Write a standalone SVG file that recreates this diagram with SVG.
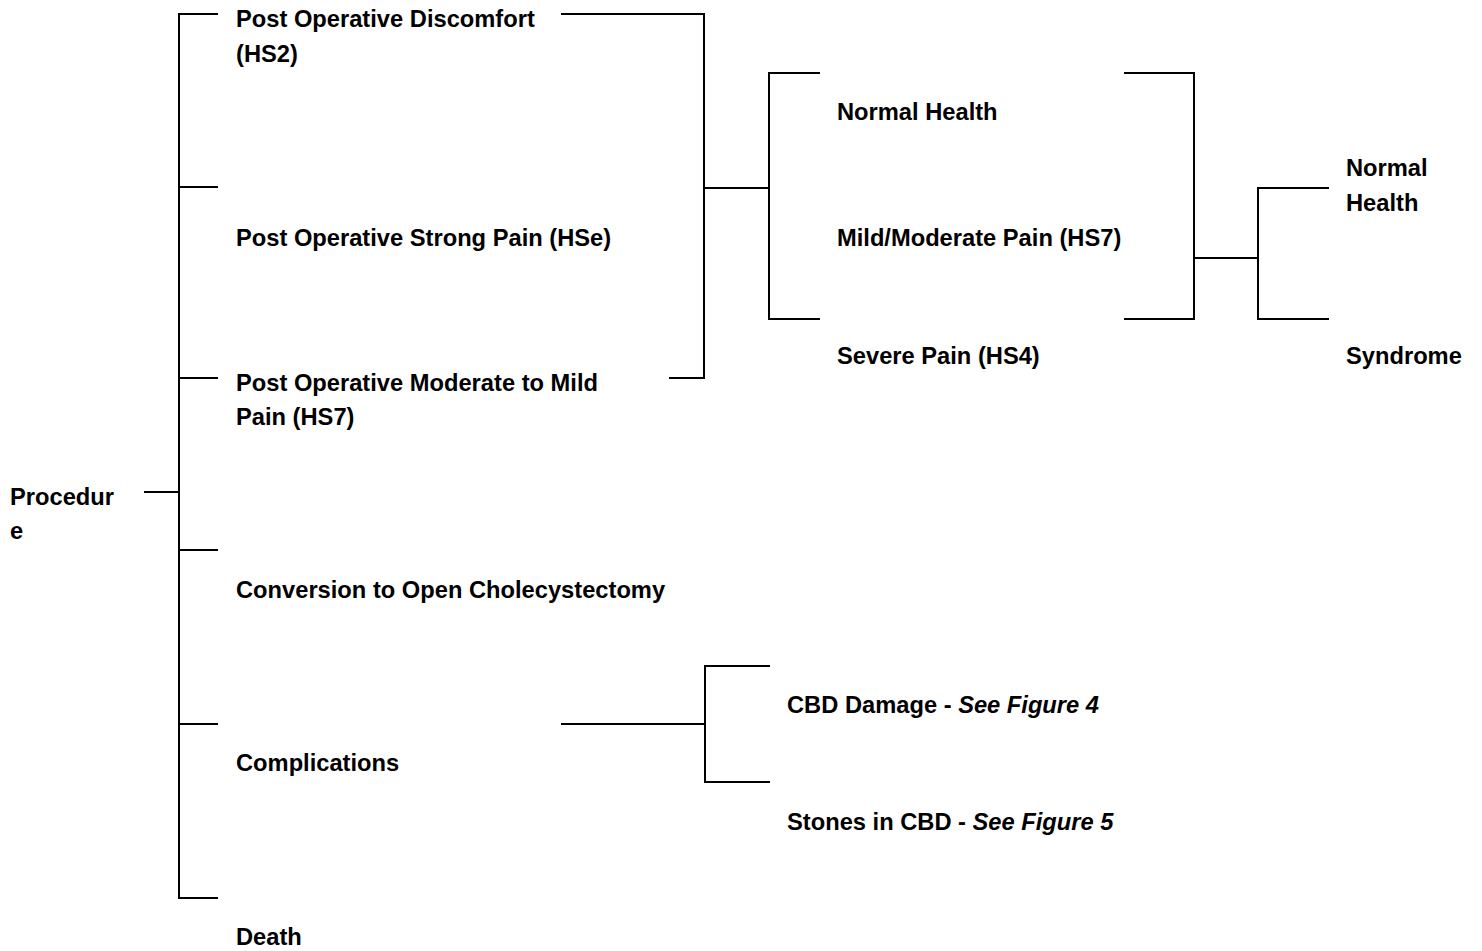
<svg xmlns="http://www.w3.org/2000/svg" width="1482" height="951" viewBox="0 0 1482 951">
<style>
.t{font-family:"Liberation Sans",Arial,sans-serif;font-weight:bold;font-size:23.7px;fill:#000}
.i{font-style:italic}
.c{fill:none;stroke:#000;stroke-width:2;stroke-linecap:square}
</style>
<rect width="1482" height="951" fill="#fff"/>
<g id="connectors" class="c">
<path d="M145 492H179M217 14H179V898H217M179 187H217M179 378H217M179 550H217M179 724H217"/>
<path d="M562 14H704V378H670M704 188H769"/>
<path d="M819 73H769V319H819"/>
<path d="M1125 73H1194V319H1125M1194 258H1258"/>
<path d="M1328 188H1258V319H1328"/>
<path d="M562 724H705M769 666H705V782H769"/>
</g>
<g id="procedure"><text class="t" x="10" y="505">Procedur</text><text class="t" x="10" y="539">e</text></g>
<g id="discomfort"><text class="t" x="236" y="27">Post Operative Discomfort</text><text class="t" x="236" y="62">(HS2)</text></g>
<g id="strong"><text class="t" x="236" y="246">Post Operative Strong Pain (HSe)</text></g>
<g id="moderate"><text class="t" x="236" y="391">Post Operative Moderate to Mild</text><text class="t" x="236" y="425">Pain (HS7)</text></g>
<g id="conversion"><text class="t" x="236" y="598">Conversion to Open Cholecystectomy</text></g>
<g id="complications"><text class="t" x="236" y="771">Complications</text></g>
<g id="death"><text class="t" x="236" y="945">Death</text></g>
<g id="normal1"><text class="t" x="837" y="120">Normal Health</text></g>
<g id="mild"><text class="t" x="837" y="246">Mild/Moderate Pain (HS7)</text></g>
<g id="severe"><text class="t" x="837" y="364">Severe Pain (HS4)</text></g>
<g id="normal2"><text class="t" x="1346" y="176">Normal</text><text class="t" x="1346" y="211">Health</text></g>
<g id="syndrome"><text class="t" x="1346" y="364">Syndrome</text></g>
<g id="cbd"><text class="t" x="787" y="713">CBD Damage - <tspan class="i">See Figure 4</tspan></text></g>
<g id="stones"><text class="t" x="787" y="830">Stones in CBD - <tspan class="i">See Figure 5</tspan></text></g>
</svg>
